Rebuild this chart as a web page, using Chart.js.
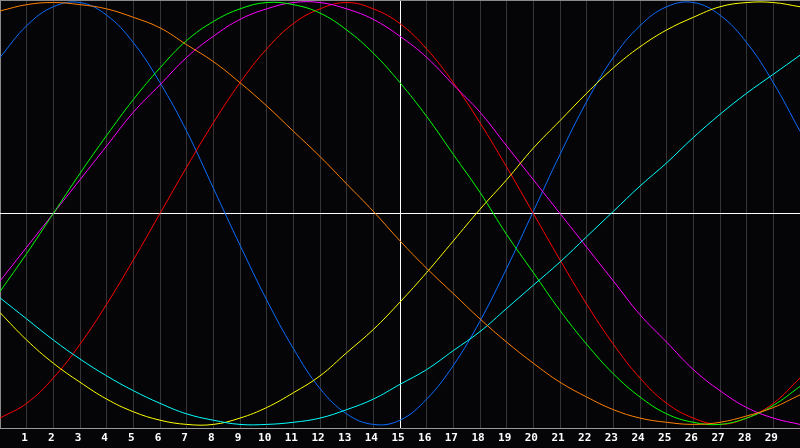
<!DOCTYPE html>
<html>
<head>
<meta charset="utf-8">
<title>Cycles</title>
<script src="https://cdn.jsdelivr.net/npm/chart.js@4/dist/chart.umd.min.js"></script>
<style>
    html, body { margin: 0; padding: 0; background: #050508; }
    #cycleChart { display: block; }
</style>
</head>
<body>
<canvas id="cycleChart" width="800" height="448"></canvas>
<script>
// days on the x axis (0 and 30 are the frame edges)
const days = [0, 1, 2, 3, 4, 5, 6, 7, 8, 9, 10, 11, 12, 13, 14, 15, 16, 17, 18, 19, 20, 21, 22, 23, 24, 25, 26, 27, 28, 29, 30];
const tickDays = [1, 2, 3, 4, 5, 6, 7, 8, 9, 10, 11, 12, 13, 14, 15, 16, 17, 18, 19, 20, 21, 22, 23, 24, 25, 26, 27, 28, 29];

// curve values, -100..100
const redValues = [-97, -90, -78, -62, -43, -22, 0, 22, 43, 62, 78, 90, 97, 100, 97, 90, 78, 62, 43, 22, 0, -22, -43, -62, -78, -90, -97, -100, -97, -90, -78];
const greenValues = [-37, -19, 0, 19, 37, 54, 69, 82, 91, 97, 100, 99, 95, 87, 76, 62, 46, 28, 10, -10, -28, -46, -62, -76, -87, -95, -99, -100, -97, -91, -82];
const magentaValues = [-32, -16, 0, 16, 32, 48, 61, 74, 84, 92, 97, 100, 100, 97, 92, 84, 74, 61, 48, 32, 16, 0, -16, -32, -48, -61, -74, -84, -92, -97, -100];
const blueValues = [74, 89, 98, 100, 94, 81, 62, 39, 12, -15, -41, -64, -83, -95, -100, -98, -88, -72, -51, -26, 1, 28, 53, 74, 89, 98, 100, 94, 81, 62, 39];
const orangeValues = [96, 99, 100, 99, 97, 93, 88, 80, 72, 62, 51, 39, 27, 14, 1, -13, -26, -38, -50, -61, -71, -80, -87, -93, -97, -99, -100, -99, -96, -92, -86];
const yellowValues = [-47, -60, -71, -80, -88, -94, -98, -100, -100, -97, -92, -85, -77, -66, -55, -42, -28, -13, 2, 16, 31, 44, 57, 69, 79, 87, 93, 98, 100, 100, 98];
const cyanValues = [-40, -50, -60, -69, -77, -84, -90, -95, -98, -100, -100, -99, -97, -93, -88, -81, -74, -65, -56, -45, -34, -23, -11, 1, 13, 24, 36, 47, 57, 66, 75];

const todayDay = 15;

function toPoints(values) {
    return days.map((d, i) => ({ x: d, y: values[i] }));
}

function makeLine(values, color) {
    return {
        data: toPoints(values),
        borderColor: color,
        borderWidth: 1,
        pointRadius: 0,
        fill: false,
        tension: 0.4
    };
}

// black background behind everything
const backgroundPlugin = {
    id: 'background',
    beforeDraw(chart) {
        const ctx = chart.ctx;
        ctx.save();
        ctx.fillStyle = '#050508';
        ctx.fillRect(0, 0, chart.width, chart.height);
        ctx.restore();
    }
};

document.addEventListener('DOMContentLoaded', function() {
    const el = document.getElementById('cycleChart');

    new Chart(el, {
        type: 'line',
        data: {
            datasets: [
                makeLine(orangeValues, '#ff8000'),
                makeLine(cyanValues, '#00ffff'),
                makeLine(yellowValues, '#ffff00'),
                makeLine(greenValues, '#00ff00'),
                makeLine(magentaValues, '#ff00ff'),
                makeLine(redValues, '#ff0000'),
                makeLine(blueValues, '#0a6cff')
            ]
        },
        options: {
            responsive: false,
            animation: false,
            layout: { padding: 0 },
            plugins: {
                legend: { display: false },
                tooltip: { enabled: false }
            },
            scales: {
                x: {
                    type: 'linear',
                    min: 0,
                    max: 30,
                    afterBuildTicks: function(scale) {
                        scale.ticks = [0].concat(tickDays).concat([30]).map(v => ({ value: v }));
                    },
                    afterFit: function(scale) {
                        scale.height = 20;
                        scale.paddingLeft = 0;
                        scale.paddingRight = 0;
                    },
                    grid: {
                        drawTicks: false,
                        lineWidth: 1,
                        color: function(c) {
                            if (c.tick.value === todayDay) return '#ffffff';
                            if (c.tick.value === 0) return '#8a8a8a';
                            if (c.tick.value === 30) return 'rgba(0,0,0,0)';
                            return '#353535';
                        }
                    },
                    border: { display: true, color: '#9a9a9a', width: 1 },
                    ticks: {
                        padding: 4,
                        labelOffset: -2,
                        maxRotation: 0,
                        autoSkip: false,
                        color: '#ffffff',
                        font: { family: '"DejaVu Sans Mono", monospace', size: 11, weight: 'bold' },
                        callback: function(value) {
                            return (value === 0 || value === 30) ? '' : String(value);
                        }
                    }
                },
                y: {
                    min: -101.7,
                    max: 101.2,
                    afterBuildTicks: function(scale) {
                        scale.ticks = [{ value: 0 }, { value: scale.max }];
                    },
                    afterFit: function(scale) {
                        scale.width = 0;
                        scale.paddingTop = 0;
                        scale.paddingBottom = 0;
                    },
                    grid: {
                        drawTicks: false,
                        color: function(c) {
                            return c.tick.value === 0 ? '#ffffff' : '#8a8a8a';
                        }
                    },
                    border: { display: false },
                    ticks: { display: false }
                }
            }
        },
        plugins: [backgroundPlugin]
    });
});
</script>
</body>
</html>
